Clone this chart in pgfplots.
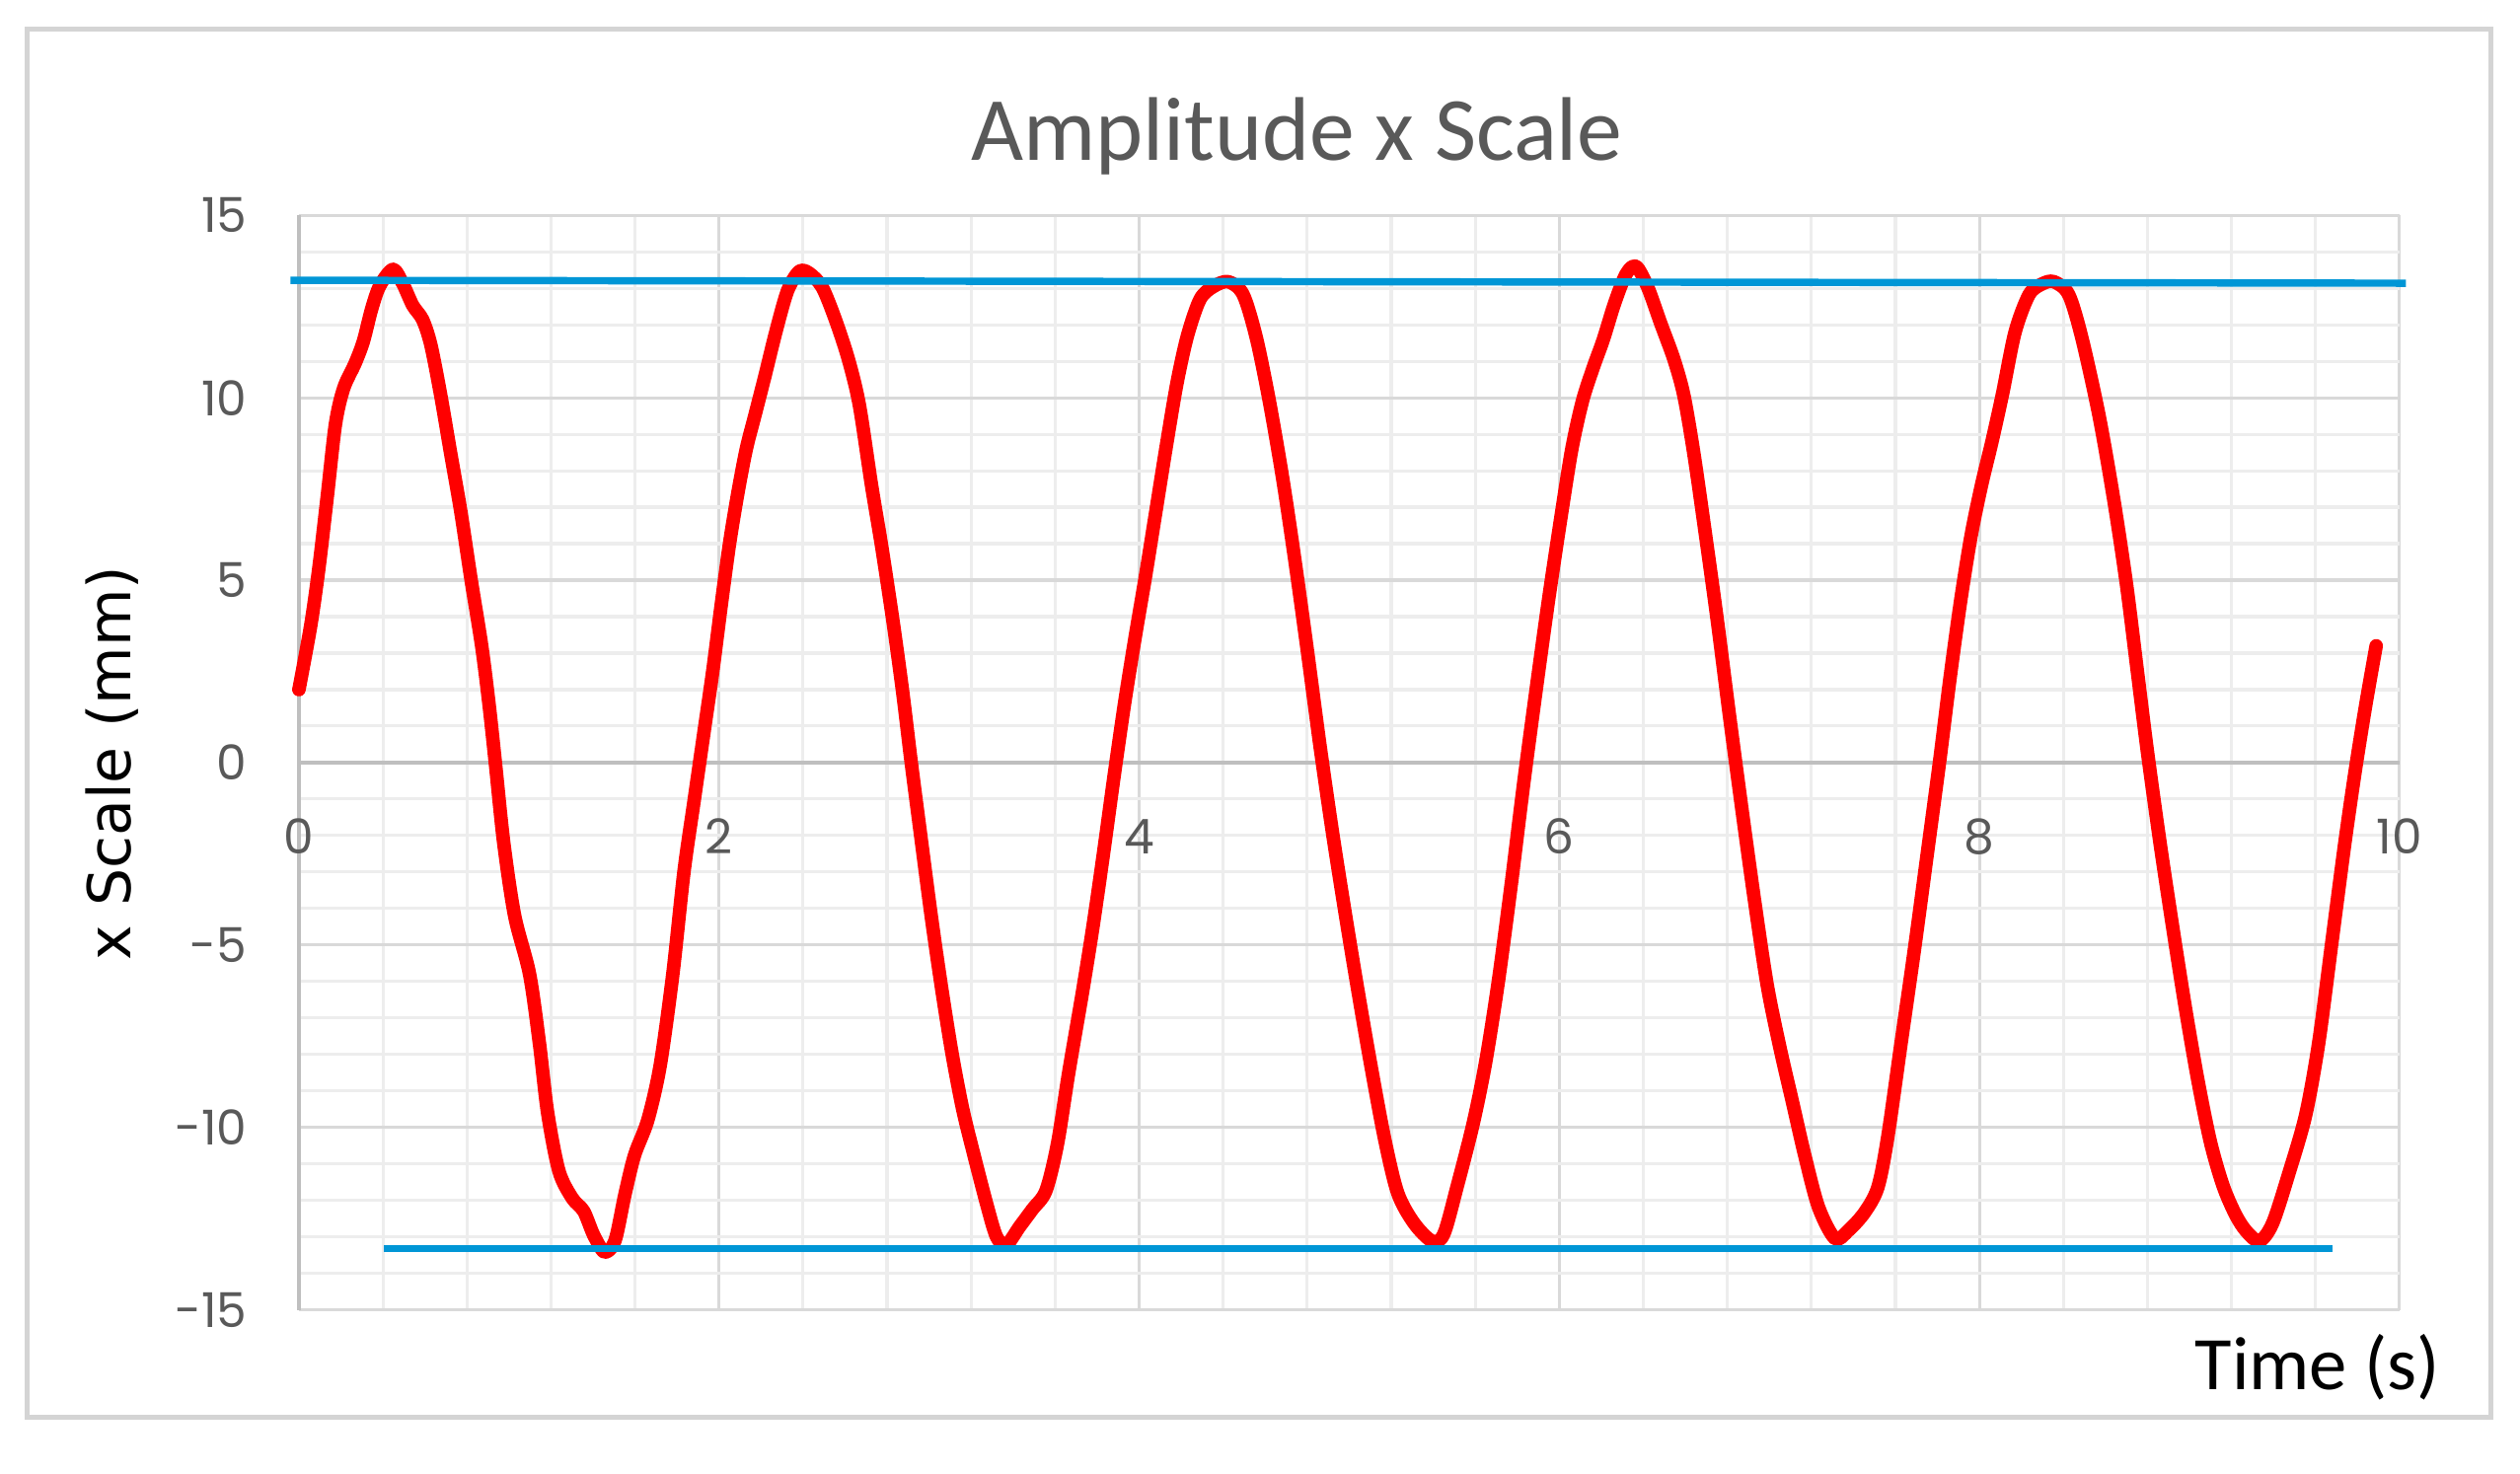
\documentclass[border=0pt]{standalone}
\usepackage{fontspec}
\setmainfont{Carlito}
\newfontfamily\tickfont{Poppins}
\newfontfamily\ylabfont{DejaVu Sans}
\usepackage{pgfplots}
\pgfplotsset{compat=1.18}
\usepackage{xcolor}
\definecolor{txtgray}{HTML}{595959}
\definecolor{majgrid}{HTML}{D9D9D9}
\definecolor{mingrid}{HTML}{EDEDED}
\definecolor{axgray}{HTML}{BFBFBF}
\definecolor{frame}{HTML}{D4D4D4}
\definecolor{lineblue}{RGB}{0,150,214}

\begin{document}
\begin{tikzpicture}[x=1cm,y=1cm]
\path (0,0) rectangle (15.68,9.17);
\draw[frame, line width=0.85pt] (0.17,0.35) rectangle (15.50,8.99);

\begin{axis}[
  at={(1.86cm,1.02cm)}, anchor=south west,
  scale only axis, width=13.07cm, height=6.81cm,
  xmin=0, xmax=10, ymin=-15, ymax=15,
  axis x line=middle, axis y line=left,
  axis line style={draw=axgray, line width=0.6pt, -},
  hide obscured x ticks=false, hide obscured y ticks=false,
  major tick length=0pt, minor tick length=0pt,
  xtick={0,2,4,6,8,10}, xticklabels={0,2,4,6,8,10},
  ytick={-15,-10,-5,0,5,10,15}, yticklabels={-15,-10,-5,0,5,10,15},
  minor x tick num=4, minor y tick num=4,
  grid=both,
  major grid style={draw=majgrid, line width=0.55pt},
  minor grid style={draw=mingrid, line width=0.55pt},
  tick label style={font=\tickfont\fontsize{8.5}{10}\selectfont, text=txtgray},
  x tick label style={anchor=center, yshift=-0.46cm},
  y tick label style={anchor=east, xshift=-0.2cm},
  clip=false,
]
\addplot[color=red, line width=2.4pt, smooth, line cap=round, line join=round] coordinates {
(0,2.0) (0.056,3.75) (0.095,5.33) (0.135,7.3) (0.174,9.28) (0.213,10.26)
(0.268,10.95) (0.307,11.55) (0.346,12.43) (0.385,13.07) (0.448,13.52) (0.495,13.12)
(0.542,12.53) (0.589,12.14) (0.628,11.45) (0.675,10.07) (0.722,8.49) (0.77,6.9)
(0.82,5.0) (0.87,3.2) (0.905,1.6) (0.935,0) (0.975,-2.2) (1.027,-4.2)
(1.098,-5.8) (1.145,-7.70) (1.184,-9.6) (1.238,-11.2) (1.301,-11.94) (1.356,-12.3)
(1.403,-12.95) (1.455,-13.42) (1.505,-13.1) (1.552,-11.84) (1.598,-10.76) (1.661,-9.8)
(1.72,-8.3) (1.78,-5.8) (1.833,-3.0) (1.88,-1.1) (1.925,0.7) (1.97,2.5)
(2.01,4.3) (2.05,6.0) (2.09,7.4) (2.13,8.6) (2.17,9.5) (2.217,10.56) (2.272,11.84)
(2.326,12.93) (2.381,13.46) (2.428,13.42) (2.491,13.03) (2.554,12.14) (2.616,11.05)
(2.668,9.8) (2.726,7.6) (2.775,5.9) (2.83,3.8) (2.875,1.9) (2.915,0)
(2.96,-2.0) (3.01,-4.2) (3.06,-6.2) (3.11,-8.0) (3.16,-9.5) (3.211,-10.7)
(3.274,-12.1) (3.321,-13.0) (3.368,-13.22) (3.430,-12.73) (3.493,-12.24) (3.556,-11.74)
(3.611,-10.46) (3.665,-8.49) (3.73,-6.3) (3.78,-4.5) (3.83,-2.5) (3.88,-0.4)
(3.93,1.6) (3.98,3.4) (4.03,5.1) (4.08,6.9) (4.13,8.7) (4.18,10.4)
(4.23,11.7) (4.29,12.7) (4.354,13.05) (4.425,13.18) (4.495,12.83) (4.558,11.64)
(4.62,9.9) (4.683,7.8) (4.74,5.6) (4.80,3.1) (4.86,0.5) (4.92,-1.9)
(4.98,-4.1) (5.04,-6.2) (5.10,-8.2) (5.168,-10.3) (5.231,-11.8) (5.309,-12.63)
(5.395,-13.12) (5.450,-12.93) (5.513,-11.64) (5.59,-9.9) (5.65,-8.2) (5.71,-6.0)
(5.77,-3.4) (5.83,-0.6) (5.89,2.0) (5.95,4.5) (6.01,6.8) (6.06,8.6)
(6.11,9.9) (6.16,10.8) (6.21,11.6) (6.264,12.6) (6.319,13.4) (6.366,13.6)
(6.421,13.03) (6.483,12.04) (6.546,11.05) (6.593,10.07) (6.64,8.5) (6.69,6.5)
(6.75,4.0) (6.81,1.3) (6.87,-1.3) (6.93,-3.8) (6.99,-6.1) (7.05,-7.8)
(7.11,-9.3) (7.17,-10.8) (7.235,-12.2) (7.313,-13.05) (7.376,-12.83) (7.454,-12.33)
(7.517,-11.64) (7.564,-10.26) (7.627,-7.7) (7.689,-5.2) (7.752,-2.5) (7.81,0)
(7.86,2.3) (7.91,4.4) (7.96,6.2) (8.01,7.6) (8.06,8.8) (8.11,10.1)
(8.17,11.8) (8.237,12.83) (8.299,13.12) (8.355,13.18) (8.425,12.83) (8.488,11.64)
(8.57,9.5) (8.64,7.2) (8.70,4.9) (8.75,2.6) (8.80,0.3) (8.86,-2.2)
(8.92,-4.5) (8.98,-6.7) (9.04,-8.7) (9.10,-10.4) (9.16,-11.6) (9.22,-12.4)
(9.271,-12.85) (9.333,-13.12) (9.396,-12.63) (9.474,-11.25) (9.553,-9.67) (9.615,-7.7)
(9.678,-4.93) (9.74,-2.2) (9.79,-0.2) (9.84,1.6) (9.889,3.2)
};
% upper and lower amplitude lines
\addplot[color=lineblue, line width=1.3pt] coordinates {(-0.04,13.22) (10.03,13.14)};
\addplot[color=lineblue, line width=1.3pt] coordinates {(0.405,-13.32) (9.68,-13.32)};
\end{axis}

\node[anchor=base, text=txtgray, font=\fontsize{16}{19}\selectfont] at (8.07,8.17) {Amplitude x Scale};
\node[rotate=90, font=\ylabfont\fontsize{10.5}{12}\selectfont] at (0.70,4.42) {x Scale (mm)};
\node[anchor=base, font=\fontsize{13.4}{16}\selectfont] at (14.42,0.52) {Time (s)};
\end{tikzpicture}
\end{document}
